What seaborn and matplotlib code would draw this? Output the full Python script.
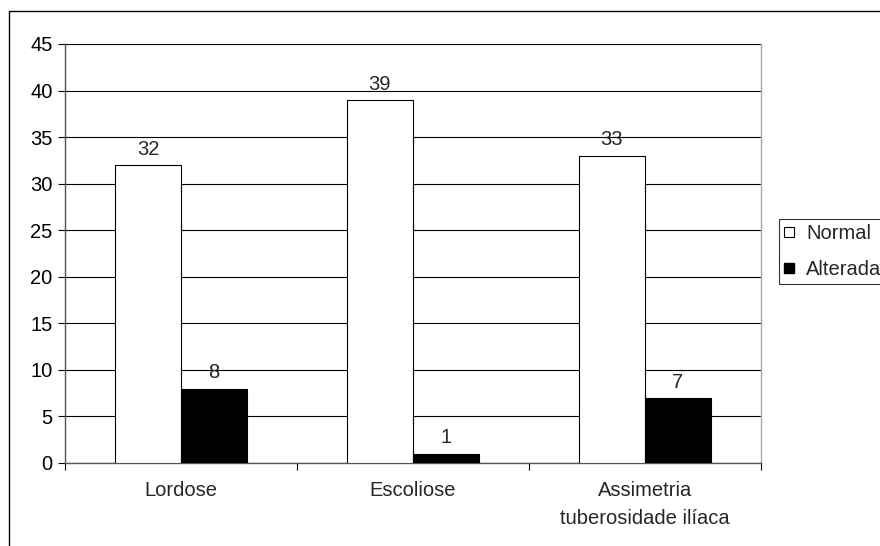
import matplotlib
matplotlib.use("Agg")
import matplotlib.pyplot as plt
import seaborn as sns
import pandas as pd
from matplotlib.patches import Rectangle
from matplotlib.lines import Line2D

categories = ["Lordose", "Escoliose", "Assimetria\ntuberosidade ilíaca"]
normal = [32, 39, 33]
alterada = [8, 1, 7]
series_names = ["Normal", "Alterada"]
yticks = [0, 5, 10, 15, 20, 25, 30, 35, 40, 45]

df = pd.DataFrame({
    "cat": categories * 2,
    "val": normal + alterada,
    "serie": [series_names[0]] * 3 + [series_names[1]] * 3,
})

sns.set_style("white")
plt.rcParams["font.family"] = ["Liberation Sans", "DejaVu Sans"]
FS = 14.5

fig = plt.figure(figsize=(8.8, 5.46), dpi=100)
ax = fig.add_axes([65 / 880, 1 - 463 / 546, (761 - 65) / 880, (463 - 44) / 546])

sns.barplot(data=df, x="cat", y="val", hue="serie", order=categories,
            hue_order=series_names, palette=["white", "black"],
            width=0.57, edgecolor="black", linewidth=0.8, ax=ax, legend=False,
            zorder=3)

ax.set_ylim(0, 45)
ax.set_xlim(-0.5, 2.5)
ax.set_yticks(yticks)
ax.yaxis.grid(True, color="black", linewidth=0.8, zorder=0)
ax.set_axisbelow(True)
ax.set_xlabel("")
ax.set_ylabel("")
ax.tick_params(axis="both", labelsize=FS, colors="black")
ax.tick_params(axis="y", length=5, width=0.8, direction="out", left=True, pad=4)
ax.set_xticks([-0.5, 0.5, 1.5, 2.5], minor=False)
ax.set_xticklabels([])
ax.set_xticks([0, 1, 2], minor=True)
ax.set_xticklabels(categories, minor=True, fontsize=FS, linespacing=1.6)
ax.tick_params(axis="x", which="major", length=5, width=0.8, bottom=True, direction="out")
ax.tick_params(axis="x", which="minor", length=0, pad=13)
ax.spines["top"].set_visible(False)
ax.spines["right"].set_color("#aaaaaa")
ax.spines["left"].set_color("#555555")
ax.spines["bottom"].set_color("#555555")
for s in ax.spines.values():
    s.set_linewidth(1.0)

for cont in ax.containers:
    ax.bar_label(cont, fontsize=FS, padding=4.5)

handles = [Line2D([], [], marker="s", linestyle="none", markersize=6.5,
                  markerfacecolor="white", markeredgecolor="black", markeredgewidth=0.8),
           Line2D([], [], marker="s", linestyle="none", markersize=7,
                  markerfacecolor="black", markeredgecolor="black")]
leg = fig.legend(handles, series_names, loc="upper left",
                 bbox_to_anchor=(779 / 880, 1 - 219 / 546), fontsize=FS,
                 frameon=True, fancybox=False, handlelength=0.5,
                 handletextpad=0.6, borderpad=0.25, labelspacing=0.85,
                 borderaxespad=0)
leg.get_frame().set_edgecolor("black")
leg.get_frame().set_linewidth(0.8)

fig.patches.append(Rectangle((9 / 880, -0.1), 1.2, 1 - 11 / 546 + 0.1,
                             transform=fig.transFigure, fill=False,
                             edgecolor="black", linewidth=1.0))

fig.savefig("out.png", dpi=100)
